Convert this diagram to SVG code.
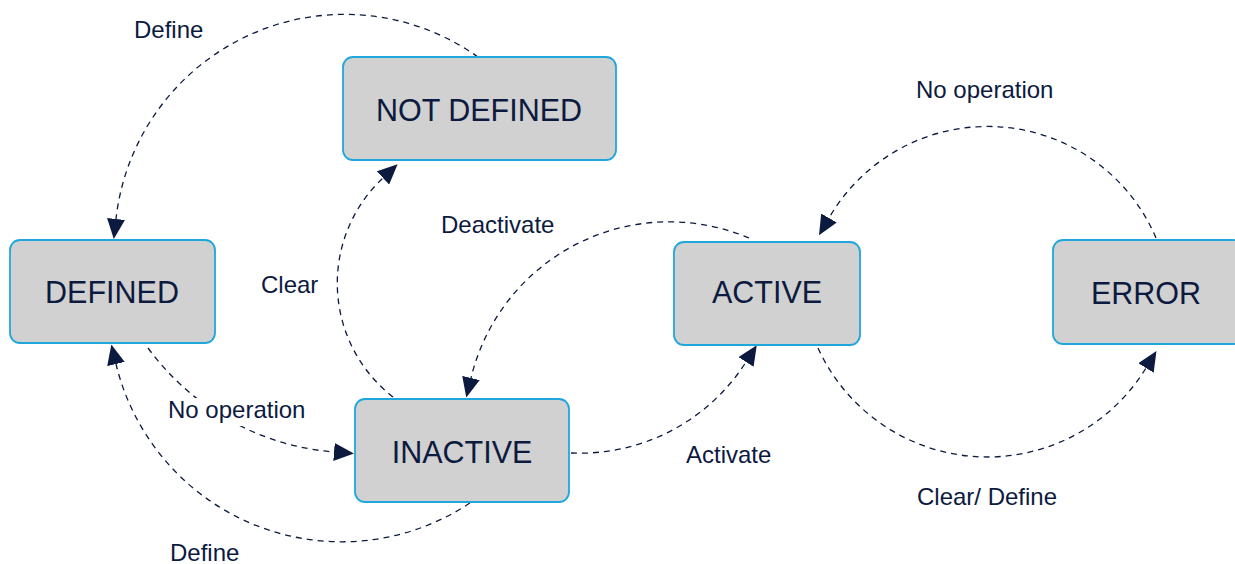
<svg xmlns="http://www.w3.org/2000/svg" width="1235" height="564" viewBox="0 0 1235 564">
<style>
.node rect{fill:#d1d1d1;stroke:#1fa7dc;stroke-width:1.8}
.node text{font-family:"Liberation Sans",Arial,sans-serif;font-size:30.5px;fill:#0c1a3f;text-anchor:middle}
.lbl{font-family:"Liberation Sans",Arial,sans-serif;font-size:24px;fill:#0c1a3f}
.edge{fill:none;stroke:#0c1a3f;stroke-width:1.3;stroke-dasharray:6 5;marker-end:url(#ah)}
</style>
<defs>
<marker id="ah" viewBox="0 0 20 18" refX="0" refY="9" markerWidth="20" markerHeight="18" markerUnits="userSpaceOnUse" orient="auto">
<path d="M0,0 L20,9 L0,18 z" fill="#0c1a3f"/>
</marker>
</defs>
<rect width="1235" height="564" fill="#ffffff"/>
<g id="connectors">
<path class="edge" d="M478,57 A230,230 0 0 0 116,219"/>
<path class="edge" d="M393,397 A144,144 0 0 1 383,178"/>
<path class="edge" d="M749,238 A204,204 0 0 0 471,378"/>
<path class="edge" d="M148,348 A256,256 0 0 0 334,452"/>
<path class="edge" d="M470,503 A232,232 0 0 1 116,364"/>
<path class="edge" d="M571,453 A197,197 0 0 0 746,362"/>
<path class="edge" d="M1156,238 A183,183 0 0 0 829,218"/>
<path class="edge" d="M818,348 A186,186 0 0 0 1146,368"/>
</g>
<g id="labels">
<text class="lbl" x="134" y="38">Define</text>
<text class="lbl" x="441" y="233">Deactivate</text>
<text class="lbl" x="261" y="293">Clear</text>
<rect x="166" y="398" width="143" height="28" fill="#ffffff"/>
<text class="lbl" x="168" y="418">No operation</text>
<text class="lbl" x="170" y="561">Define</text>
<text class="lbl" x="686" y="463">Activate</text>
<text class="lbl" x="916" y="98">No operation</text>
<text class="lbl" x="917" y="505">Clear/ Define</text>
</g>
<g id="node-not-defined" class="node">
<rect x="343" y="57" width="273" height="103" rx="10"/>
<text x="479" y="121">NOT DEFINED</text>
</g>
<g id="node-defined" class="node">
<rect x="10" y="240" width="205" height="103" rx="10"/>
<text x="112" y="303">DEFINED</text>
</g>
<g id="node-inactive" class="node">
<rect x="355" y="399" width="214" height="103" rx="10"/>
<text x="462" y="463">INACTIVE</text>
</g>
<g id="node-active" class="node">
<rect x="674" y="242" width="186" height="103" rx="10"/>
<text x="767" y="303">ACTIVE</text>
</g>
<g id="node-error" class="node">
<rect x="1053" y="240" width="190" height="104" rx="10"/>
<text x="1146" y="304">ERROR</text>
</g>
</svg>
